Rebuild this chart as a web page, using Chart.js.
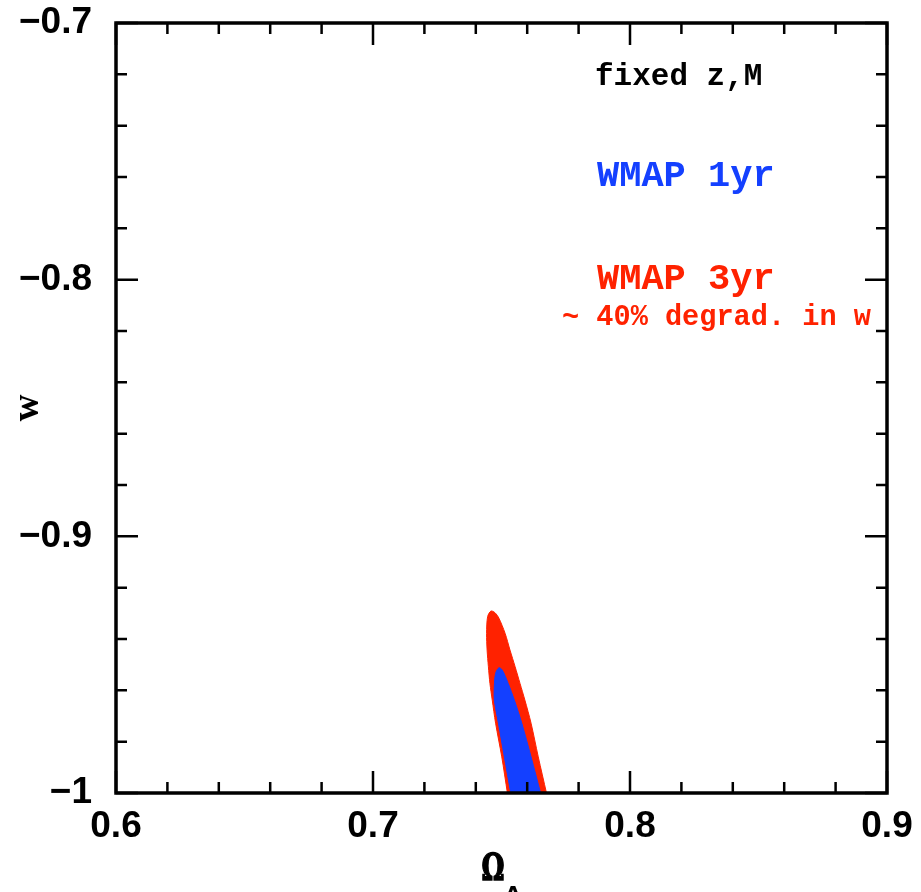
<!DOCTYPE html>
<html><head><meta charset="utf-8">
<script src="https://cdn.jsdelivr.net/npm/chart.js@4.4.0/dist/chart.umd.min.js"></script>
<style>html,body{margin:0;padding:0;background:#fff}#wrap{width:921px;height:892px;position:relative}</style>
</head><body><div id="wrap"><canvas id="c" width="921" height="892"></canvas></div>
<script>
// ---- data ----
const xTicks = [0.6, 0.7, 0.8, 0.9];
const xTickLabels = ['0.6', '0.7', '0.8', '0.9'];
const yTicks = [-1, -0.9, -0.8, -0.7];
const yTickLabels = ['\u22121', '\u22120.9', '\u22120.8', '\u22120.7'];
const seriesNames = ['WMAP 1yr', 'WMAP 3yr'];
// WMAP 3yr contour (outer, red)
const wmap3X = [0.7523, 0.7501, 0.7477, 0.7464, 0.7455, 0.7449, 0.7444, 0.7442, 0.7446, 0.7459, 0.7475, 0.7490, 0.7514, 0.7533, 0.7553, 0.7572, 0.7591, 0.7615, 0.7643, 0.7675];
const wmap3Y = [-1.0, -0.9859, -0.9728, -0.9638, -0.9573, -0.9508, -0.9443, -0.9378, -0.9313, -0.9291, -0.9298, -0.9319, -0.9378, -0.9443, -0.9508, -0.9573, -0.9638, -0.9728, -0.9859, -1.0];
// WMAP 1yr contour (inner, blue)
const wmap1X = [0.7536, 0.7511, 0.7488, 0.7472, 0.7472, 0.7477, 0.7490, 0.7503, 0.7526, 0.7550, 0.7579, 0.7615, 0.7652];
const wmap1Y = [-1.0, -0.9859, -0.9728, -0.9638, -0.9586, -0.9534, -0.9512, -0.9521, -0.9573, -0.9638, -0.9728, -0.9859, -1.0];
const notes = ['fixed z,M', 'WMAP 1yr', 'WMAP 3yr', '~ 40% degrad. in w'];

const RED = '#ff2200', BLUE = '#1440ff';
const toPts = (xs, ys) => xs.map((x, i) => ({x: x, y: ys[i]}));

const framePlugin = {
  id: 'frame',
  afterDatasetsDraw(chart) {
    const ctx = chart.ctx, a = chart.chartArea;
    const xs = chart.scales.x, ys = chart.scales.y;
    ctx.save();
    ctx.strokeStyle = '#000';
    ctx.lineWidth = 3.5;
    ctx.strokeRect(a.left, a.top, a.right - a.left, a.bottom - a.top);
    ctx.lineWidth = 2.5;
    ctx.beginPath();
    for (let i = 0; i <= 15; i++) {
      const v = 0.6 + i * 0.02;
      const px = xs.getPixelForValue(v);
      const len = (i % 5 === 0) ? 22 : 11;
      ctx.moveTo(px, a.bottom); ctx.lineTo(px, a.bottom - len);
      ctx.moveTo(px, a.top); ctx.lineTo(px, a.top + len);
    }
    for (let i = 0; i <= 15; i++) {
      const v = -1 + i * 0.02;
      const py = ys.getPixelForValue(v);
      const len = (i % 5 === 0) ? 22 : 11;
      ctx.moveTo(a.left, py); ctx.lineTo(a.left + len, py);
      ctx.moveTo(a.right, py); ctx.lineTo(a.right - len, py);
    }
    ctx.stroke();

    // annotations
    ctx.textAlign = 'left';
    ctx.textBaseline = 'alphabetic';
    ctx.fillStyle = '#000';
    ctx.font = 'bold 31px "Liberation Mono"';
    ctx.fillText(notes[0], 595, 85);
    ctx.fillStyle = BLUE;
    ctx.font = 'bold 37px "Liberation Mono"';
    ctx.fillText(notes[1], 597, 186);
    ctx.fillStyle = RED;
    ctx.fillText(notes[2], 597, 289);
    ctx.font = 'bold 28.6px "Liberation Mono"';
    ctx.fillText(notes[3], 562, 325);

    // x axis title: Omega_Lambda
    ctx.fillStyle = '#000';
    ctx.strokeStyle = '#000';
    ctx.lineWidth = 1.5;
    ctx.textAlign = 'center';
    ctx.save();
    ctx.translate(493, 880);
    ctx.scale(0.68, 1);
    ctx.font = 'bold 38px "DejaVu Serif"';
    ctx.fillText('\u03A9', 0, 0);
    ctx.strokeText('\u03A9', 0, 0);
    ctx.restore();
    ctx.font = 'bold 20px "DejaVu Sans"';
    ctx.fillText('\u039B', 513, 900);
    ctx.restore();
  }
};

new Chart(document.getElementById('c'), {
  type: 'scatter',
  data: {
    datasets: [
      { label: seriesNames[0], data: toPts(wmap1X, wmap1Y), showLine: true, fill: 'shape',
        backgroundColor: BLUE, borderColor: BLUE, borderWidth: 1, pointRadius: 0, tension: 0.3 },
      { label: seriesNames[1], data: toPts(wmap3X, wmap3Y), showLine: true, fill: 'shape',
        backgroundColor: RED, borderColor: RED, borderWidth: 1, pointRadius: 0, tension: 0.3 }
    ]
  },
  options: {
    responsive: false,
    animation: false,
    devicePixelRatio: 1,
    layout: { padding: { left: 0, right: 34, top: 23, bottom: 0 } },
    plugins: { legend: { display: false }, tooltip: { enabled: false } },
    scales: {
      x: {
        type: 'linear', position: 'bottom', min: 0.6, max: 0.9,
        afterBuildTicks: s => { s.ticks = xTicks.map(v => ({value: v})); },
        afterFit: s => { s.height = 99; s.paddingLeft = 0; s.paddingRight = 0; },
        grid: { display: false, drawTicks: false },
        border: { display: false },
        ticks: {
          padding: 12, color: '#000', maxRotation: 0,
          font: { family: 'Liberation Sans', weight: 'bold', size: 37 },
          callback: v => xTickLabels[xTicks.findIndex(t => Math.abs(t - v) < 1e-6)]
        }
      },
      y: {
        type: 'linear', position: 'left', min: -1, max: -0.7,
        afterBuildTicks: s => { s.ticks = yTicks.map(v => ({value: v})); },
        afterFit: s => { s.width = 116; s.paddingTop = 0; s.paddingBottom = 0; },
        grid: { display: false, drawTicks: false },
        border: { display: false },
        title: { display: true, text: 'w', color: '#000', padding: { top: 6, bottom: 0 },
          font: { family: 'Liberation Serif', weight: 'bold', size: 37 } },
        ticks: {
          padding: 24, color: '#000',
          font: { family: 'Liberation Sans', weight: 'bold', size: 37 },
          callback: v => yTickLabels[yTicks.findIndex(t => Math.abs(t - v) < 1e-6)]
        }
      }
    }
  },
  plugins: [framePlugin]
});
</script>
</body></html>
